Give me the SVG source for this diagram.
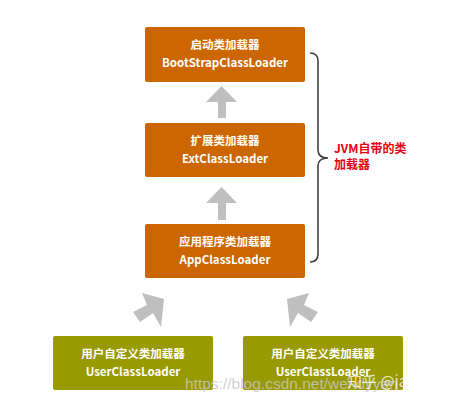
<svg xmlns="http://www.w3.org/2000/svg" width="466" height="409" viewBox="0 0 466 409">
<style>
.box{fill:#cc6600}
.ubox{fill:#999900}
.t{font-family:"Noto Sans CJK SC","Noto Sans",sans-serif;font-weight:bold;font-size:11.5px;fill:#ffffff;text-anchor:middle}
.arr{fill:#bfbfbf}
.note{font-family:"Noto Sans CJK SC","Noto Sans",sans-serif;font-weight:bold;font-size:12px;fill:#e60012}
.wm{font-family:"Liberation Sans",Arial,sans-serif;font-size:15.5px;fill:#c8c8c8;fill-opacity:0.85}
.wm2{font-family:"Noto Sans CJK SC","Noto Sans",sans-serif;font-size:15px;fill:#ffffff;fill-opacity:0.8}
</style>
<rect width="466" height="409" fill="#ffffff"/>
<g id="connectors">
<polygon class="arr" points="221.5,86 237,102 226,102 226,118 218,118 218,102 206,102"/>
<polygon class="arr" points="221.5,187 237,203 226,203 226,220 218,220 218,203 206,203"/>
<polygon class="arr" points="164,299 142,293 147,305 133,312 140,322 153,313 161,327"/>
<polygon class="arr" points="287,299 309,293 304,305 318,312 311,322 298,313 290,327"/>
<path d="M310,53 Q318,53 318,61 L318,150 Q318,158 328,158 Q318,158 318,166 L318,254 Q318,262 310,262" fill="none" stroke="#404040" stroke-width="1.6"/>
</g>
<g id="bootstrap">
<rect class="box" x="145" y="27" width="160" height="55" rx="2"/>
<text class="t" x="225" y="49">启动类加载器</text>
<text class="t" x="225" y="67">BootStrapClassLoader</text>
</g>
<g id="ext">
<rect class="box" x="145" y="123" width="160" height="54" rx="2"/>
<text class="t" x="225" y="145">扩展类加载器</text>
<text class="t" x="225" y="163">ExtClassLoader</text>
</g>
<g id="app">
<rect class="box" x="145" y="224" width="160" height="54" rx="2"/>
<text class="t" x="225" y="246">应用程序类加载器</text>
<text class="t" x="225" y="264">AppClassLoader</text>
</g>
<g id="user1">
<rect class="ubox" x="53" y="336" width="160" height="54" rx="2"/>
<text class="t" x="133" y="358">用户自定义类加载器</text>
<text class="t" x="133" y="376">UserClassLoader</text>
</g>
<g id="user2">
<rect class="ubox" x="243" y="336" width="160" height="54" rx="2"/>
<text class="t" x="323" y="358">用户自定义类加载器</text>
<text class="t" x="323" y="376">UserClassLoader</text>
</g>
<g id="jvm-note">
<text class="note" x="334" y="153">JVM自带的类</text>
<text class="note" x="334" y="169">加载器</text>
</g>
<g id="watermark">
<text class="wm" x="185" y="389">https://blog.csdn.net/wendyyan</text>
<text class="wm2" x="347" y="387">知乎 @java</text>
</g>
</svg>
